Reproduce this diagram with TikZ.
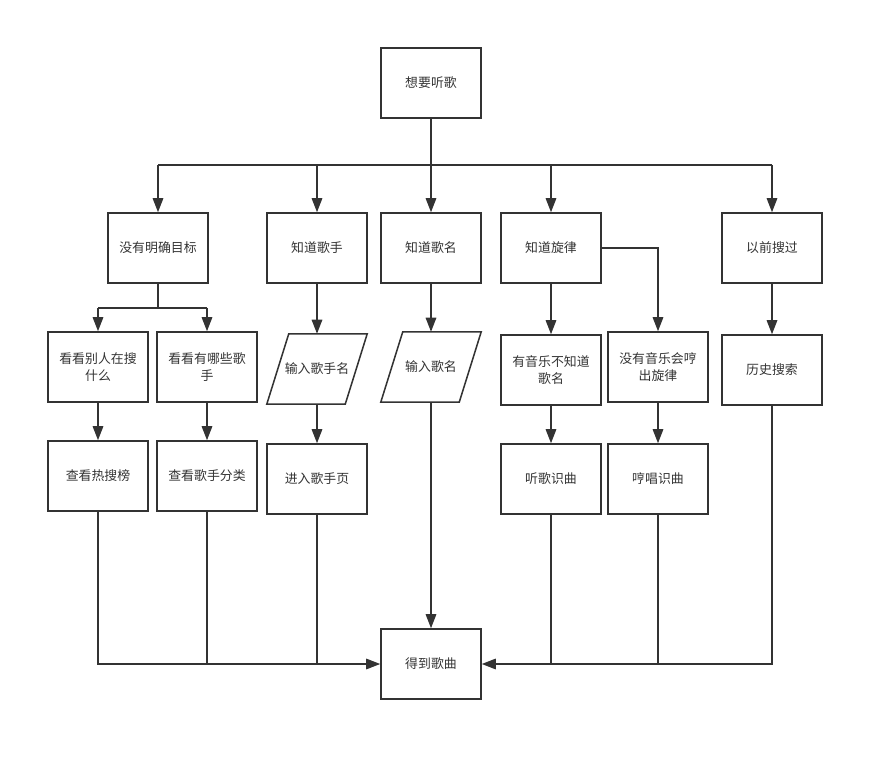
\documentclass[tikz,border=0pt]{standalone}
\usepackage{fontspec}
\setmainfont{Noto Sans CJK SC}
\usetikzlibrary{arrows.meta}
\definecolor{ink}{HTML}{333333}

\begin{document}
\begin{tikzpicture}[x=0.03cm,y=-0.03cm,
    font=\fontsize{11pt}{14pt}\selectfont, text=ink,
    box/.style={draw=ink, line width=1.3pt, minimum width=3cm, minimum height=2.1cm, align=center, inner sep=2pt},
    io/.style={minimum width=3cm, minimum height=2.1cm, align=center, inner sep=2pt},
    line/.style={draw=ink, line width=1.2pt},
    arr/.style={line, -{Triangle[width=9pt,length=12pt]}}]
    \useasboundingbox (0,0) rectangle (884,761);

    \node[box] (want) at (431,83) {想要听歌};

    \node[box] (aim) at (158,248) {没有明确目标};
    \node[box] (singer) at (317,248) {知道歌手};
    \node[box] (song) at (431,248) {知道歌名};
    \node[box] (tune) at (551,248) {知道旋律};
    \node[box] (past) at (772,248) {以前搜过};

    \node[box] (others) at (98,367) {看看别人在搜\\什么};
    \node[box] (artists) at (207,367) {看看有哪些歌\\手};
    \node[io] (inartist) at (317,369) {输入歌手名};
    \node[io] (insong) at (431,367) {输入歌名};
    \node[box] (heard) at (551,370) {有音乐不知道\\歌名};
    \node[box] (hum) at (658,367) {没有音乐会哼\\出旋律};
    \node[box] (history) at (772,370) {历史搜索};

    \node[box] (hot) at (98,476) {查看热搜榜};
    \node[box] (cat) at (207,476) {查看歌手分类};
    \node[box] (page) at (317,479) {进入歌手页};
    \node[box] (listen) at (551,479) {听歌识曲};
    \node[box] (sing) at (658,479) {哼唱识曲};

    \node[box] (result) at (431,664) {得到歌曲};

    % input parallelograms
    \foreach \n in {inartist,insong}
        \draw[ink, line width=1.3pt] ([xshift=0.66cm]\n.north west) -- (\n.north east)
            -- ([xshift=-0.66cm]\n.south east) -- (\n.south west) -- cycle;

    % first split
    \coordinate (bus) at (431,165);
    \draw[line] (want) -- (bus);
    \draw[line] (bus -| aim) -- (bus -| past);
    \foreach \n in {aim,singer,song,tune,past}
        \draw[arr] (bus -| \n) -- (\n);

    % no clear target
    \coordinate (split) at (158,308);
    \draw[line] (aim) -- (split);
    \draw[line] (split -| others) -- (split -| artists);
    \draw[arr] (split -| others) -- (others);
    \draw[arr] (split -| artists) -- (artists);

    \draw[arr] (others) -- (hot);
    \draw[arr] (artists) -- (cat);
    \draw[arr] (singer) -- (inartist);
    \draw[arr] (inartist) -- (page);
    \draw[arr] (song) -- (insong);
    \draw[arr] (insong) -- (result);
    \draw[arr] (tune) -- (heard);
    \draw[arr] (tune.east) -| (hum);
    \draw[arr] (heard) -- (listen);
    \draw[arr] (hum) -- (sing);
    \draw[arr] (past) -- (history);

    % collect
    \draw[arr] (hot) |- (result);
    \draw[line] (cat) -- (cat |- result);
    \draw[line] (page) -- (page |- result);
    \draw[arr] (history) |- (result);
    \draw[line] (listen) -- (listen |- result);
    \draw[line] (sing) -- (sing |- result);
\end{tikzpicture}
\end{document}
